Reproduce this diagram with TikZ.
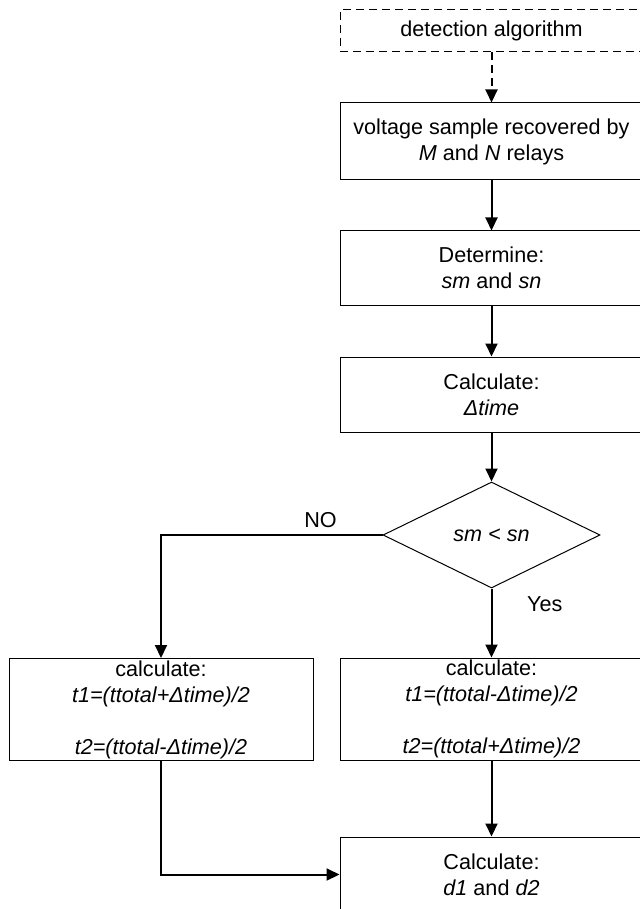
\documentclass[tikz,border=0pt]{standalone}
\usepackage{fontspec}
\setmainfont{Liberation Sans}
\usetikzlibrary{shapes,arrows.meta,positioning,calc}

\begin{document}
\begin{tikzpicture}[x=0.5pt,y=-0.5pt]

 \tikzset{
   proc/.style={rectangle, draw=black, line width=0.5pt, minimum width=151.5pt, minimum height=37.5pt, inner sep=0pt, align=center, font=\fontsize{10.8}{13}\selectfont},
   startbox/.style={proc, dashed, dash pattern=on 4pt off 2.5pt, minimum height=21pt},
   calcbox/.style={proc, minimum height=51pt},
   decision/.style={diamond, draw=black, line width=0.5pt, minimum width=108.5pt, minimum height=53pt, inner sep=0pt, font=\fontsize{10.8}{13}\selectfont},
   arrow/.style={-{Triangle[length=6.5pt,width=6pt]}, line width=1pt},
   lbl/.style={font=\fontsize{10.8}{13}\selectfont}
 }

 % Page frame (the figure is cropped on the right and at the bottom)
 \useasboundingbox (0,0) rectangle (640,909);
 \clip (0,0) rectangle (640,909);

 % Columns
 \def\xposMain{491.5}
 \def\xposLeft{161}

 % Main column
 \node[startbox] (detect) at (\xposMain, 31) {detection algorithm};
 \node[proc, minimum height=38.5pt] (sample) at (\xposMain, 141.5) {voltage sample recovered by\\ \textit{M} and \textit{N} relays};
 \node[proc, minimum height=37pt] (determine) at (\xposMain, 268) {Determine:\\ \textit{sm} and \textit{sn}};
 \node[proc] (delta) at (\xposMain, 394.5) {Calculate:\\ \textit{Δtime}};
 \node[decision] (test) at (\xposMain, 535) {\textit{sm < sn}};

 % Branches
 \node[calcbox] (calcr) at (\xposMain, 709) {calculate:\\ \textit{t1=(ttotal-Δtime)/2}\\ \\ \textit{t2=(ttotal+Δtime)/2}};
 \node[calcbox, minimum width=152pt] (calcl) at (\xposLeft, 709.5) {calculate:\\ \textit{t1=(ttotal+Δtime)/2}\\ \\ \textit{t2=(ttotal-Δtime)/2}};

 % Result
 \node[proc] (result) at (\xposMain, 874.5) {Calculate:\\ \textit{d1} and \textit{d2}};

 % Arrows
 \draw[arrow, dash pattern=on 4pt off 2.5pt] (detect) -- (sample);
 \draw[arrow] (sample) -- (determine);
 \draw[arrow] (determine) -- (delta);
 \draw[arrow] (delta) -- (test);
 \draw[arrow] (test.west) -| (calcl.north) node[lbl, pos=0.14, above] {NO};
 \draw[arrow] (test.south) -- (calcr.north) node[lbl, pos=0.23, right, xshift=14pt] {Yes};
 \draw[arrow] (calcr) -- (result);
 \draw[arrow] (calcl.south) |- (result.west);

\end{tikzpicture}
\end{document}
